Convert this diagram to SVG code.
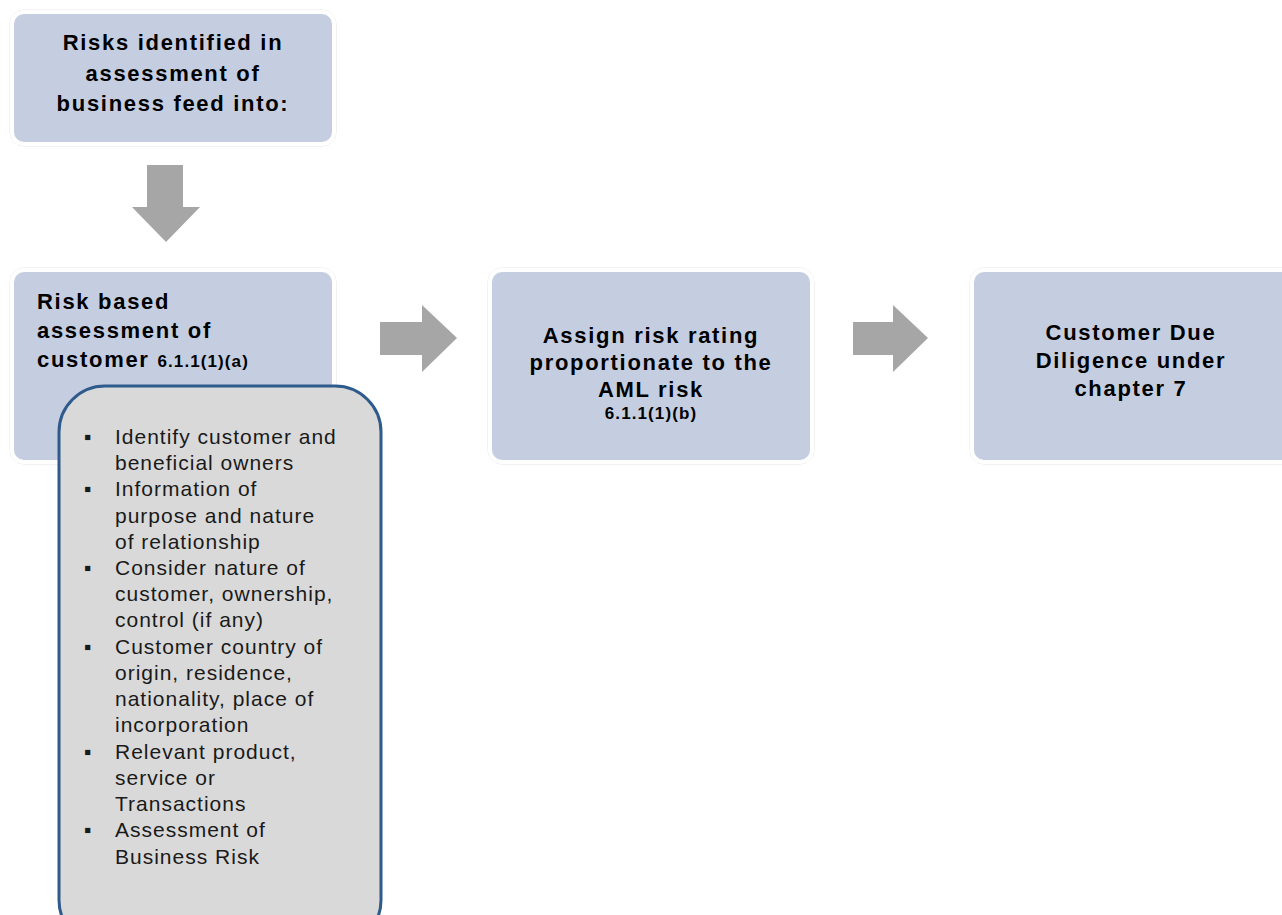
<svg xmlns="http://www.w3.org/2000/svg" width="1282" height="915" viewBox="0 0 1282 915">
<style>
.box{fill:#C5CEE1;stroke:#FFFFFF;stroke-width:4}
.halo{fill:none;stroke:#E4E4E4;stroke-width:1}
.t{font-family:"Liberation Sans",Arial,sans-serif;font-weight:bold;font-size:22px;fill:#000;letter-spacing:1.7px}
.s{font-family:"Liberation Sans",Arial,sans-serif;font-weight:bold;font-size:17px;fill:#000;letter-spacing:1.1px}
.b{font-family:"Liberation Sans",Arial,sans-serif;font-size:21px;fill:#1a1a1a;letter-spacing:1px}
.arr{fill:#A6A6A6}
</style>
<rect width="1282" height="915" fill="#FFFFFF"/>
<g id="n1">
<rect class="halo" x="10" y="10" width="326" height="136" rx="14"/>
<rect class="box" x="12" y="12" width="322" height="132" rx="12"/>
<text class="t" text-anchor="middle"><tspan x="173" y="50">Risks identified in</tspan><tspan x="173" y="81">assessment of</tspan><tspan x="173" y="111">business feed into:</tspan></text>
</g>
<g id="n2">
<rect class="halo" x="10" y="268" width="326" height="196" rx="14"/>
<rect class="box" x="12" y="270" width="322" height="192" rx="12"/>
<text class="t"><tspan x="37" y="309">Risk based</tspan><tspan x="37" y="338">assessment of</tspan><tspan x="37" y="367">customer <tspan class="s">6.1.1(1)(a)</tspan></tspan></text>
</g>
<g id="n3">
<rect class="halo" x="488" y="268" width="326" height="196" rx="14"/>
<rect class="box" x="490" y="270" width="322" height="192" rx="12"/>
<text class="t" text-anchor="middle"><tspan x="651" y="343">Assign risk rating</tspan><tspan x="651" y="370">proportionate to the</tspan><tspan x="651" y="397">AML risk</tspan></text>
<text class="s" x="651" y="419" text-anchor="middle">6.1.1(1)(b)</text>
</g>
<g id="n4">
<rect class="halo" x="970" y="268" width="326" height="196" rx="14"/>
<rect class="box" x="972" y="270" width="322" height="192" rx="12"/>
<text class="t" text-anchor="middle"><tspan x="1131" y="340">Customer Due</tspan><tspan x="1131" y="368">Diligence under</tspan><tspan x="1131" y="396">chapter 7</tspan></text>
</g>
<g id="connectors">
<polygon class="arr" points="147,165 183,165 183,207 200,207 166,242 132,207 147,207"/>
<polygon class="arr" points="380,322 422,322 422,305 457,338 422,372 422,355 380,355"/>
<polygon class="arr" points="853,322 893,322 893,305 928,338 893,372 893,355 853,355"/>
</g>
<g id="details">
<rect x="59" y="386" width="322" height="560" rx="46" fill="#D9D9D9" stroke="#2F5A8C" stroke-width="3"/>
<g class="b">
<text x="84" y="444">▪</text><text x="84" y="496">▪</text><text x="84" y="575">▪</text><text x="84" y="654">▪</text><text x="84" y="759">▪</text><text x="84" y="837">▪</text>
<text x="115" y="444">Identify customer and</text>
<text x="115" y="470">beneficial owners</text>
<text x="115" y="496">Information of</text>
<text x="115" y="523">purpose and nature</text>
<text x="115" y="549">of relationship</text>
<text x="115" y="575">Consider nature of</text>
<text x="115" y="601">customer, ownership,</text>
<text x="115" y="627">control (if any)</text>
<text x="115" y="654">Customer country of</text>
<text x="115" y="680">origin, residence,</text>
<text x="115" y="706">nationality, place of</text>
<text x="115" y="732">incorporation</text>
<text x="115" y="759">Relevant product,</text>
<text x="115" y="785">service or</text>
<text x="115" y="811">Transactions</text>
<text x="115" y="837">Assessment of</text>
<text x="115" y="864">Business Risk</text>
</g>
</g>
</svg>
